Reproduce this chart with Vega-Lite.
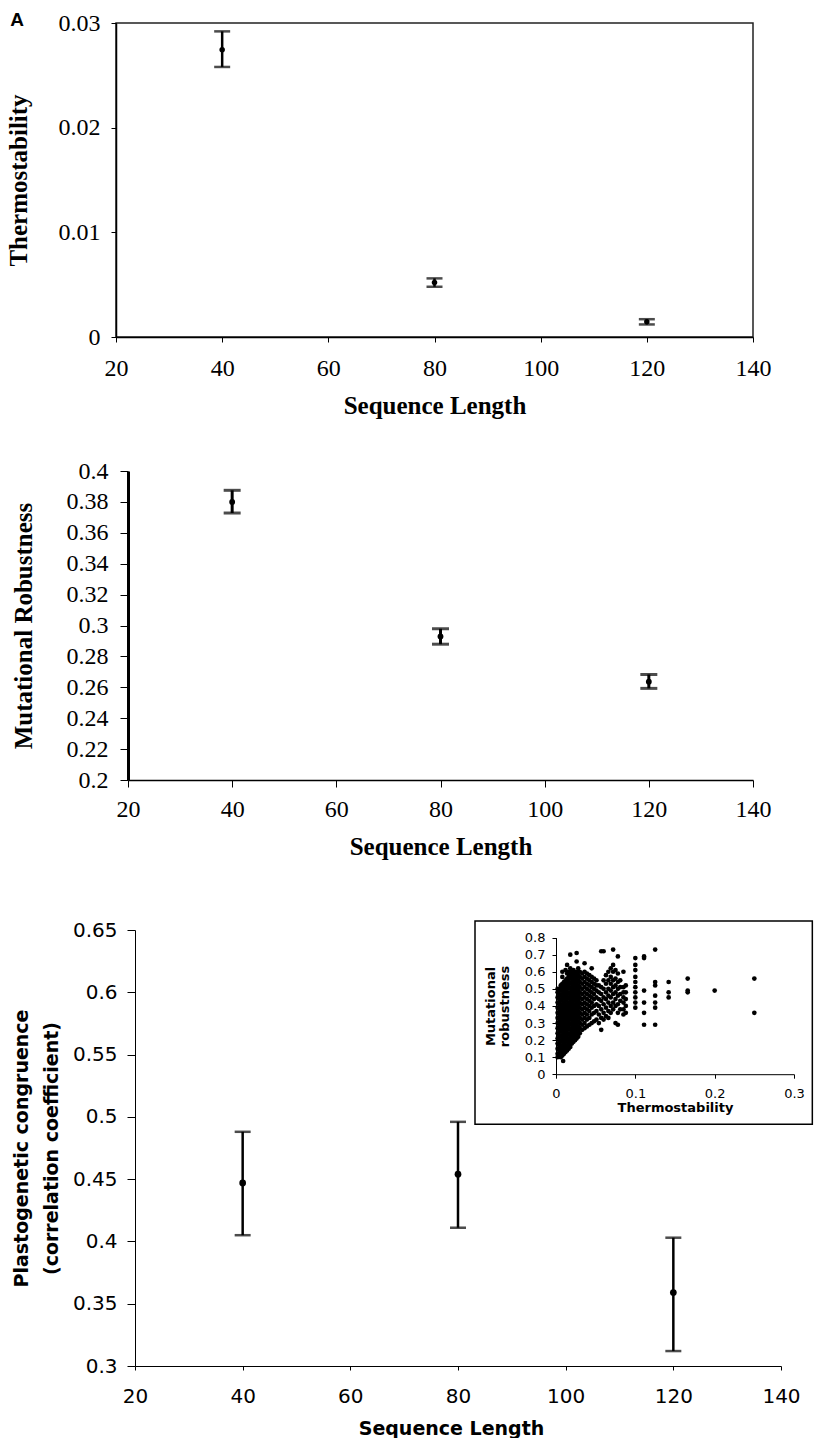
{
"$schema":"https://vega.github.io/schema/vega-lite/v6.json",
"background":"white",
"padding":{"left":5,"top":10,"right":0,"bottom":0},
"title":{"text":"A","anchor":"start","font":"Liberation Sans","fontSize":19,"fontWeight":"bold","offset":-20,"dx":5,"color":"black"},
"config":{"view":{"stroke":null},"axis":{"grid":false,"domainColor":"black","tickColor":"black","labelColor":"black","titleColor":"black","labelFlush":false,"labelOverlap":false}},
"datasets":{
"p1":[{"len":40,"mean":0.02745,"lo":0.0258,"hi":0.0292},{"len":80,"mean":0.0052,"lo":0.0048,"hi":0.0056},{"len":120,"mean":0.00146,"lo":0.0012,"hi":0.0017}],
"p2":[{"len":40,"mean":0.38,"lo":0.3728,"hi":0.3875},{"len":80,"mean":0.2929,"lo":0.2879,"hi":0.2979},{"len":120,"mean":0.2636,"lo":0.2593,"hi":0.2683}],
"p3":[{"len":40,"mean":0.447,"lo":0.405,"hi":0.488},{"len":80,"mean":0.454,"lo":0.411,"hi":0.496},{"len":120,"mean":0.359,"lo":0.312,"hi":0.403}],
"inset":[
{"t":0.002,"m":0.10},{"t":0.002,"m":0.12},{"t":0.002,"m":0.15},{"t":0.002,"m":0.18},{"t":0.002,"m":0.21},{"t":0.002,"m":0.24},{"t":0.002,"m":0.27},{"t":0.002,"m":0.30},{"t":0.002,"m":0.33},{"t":0.002,"m":0.36},{"t":0.002,"m":0.39},{"t":0.002,"m":0.42},{"t":0.002,"m":0.45},{"t":0.002,"m":0.48},{"t":0.002,"m":0.50},
{"t":0.004,"m":0.11},{"t":0.004,"m":0.14},{"t":0.004,"m":0.17},{"t":0.004,"m":0.2},{"t":0.004,"m":0.23},{"t":0.004,"m":0.26},{"t":0.004,"m":0.29},{"t":0.004,"m":0.32},{"t":0.004,"m":0.35},{"t":0.004,"m":0.38},{"t":0.004,"m":0.41},{"t":0.004,"m":0.44},{"t":0.004,"m":0.47},{"t":0.004,"m":0.5},
{"t":0.006,"m":0.1},{"t":0.006,"m":0.13},{"t":0.006,"m":0.16},{"t":0.006,"m":0.19},{"t":0.006,"m":0.22},{"t":0.006,"m":0.25},{"t":0.006,"m":0.28},{"t":0.006,"m":0.31},{"t":0.006,"m":0.34},{"t":0.006,"m":0.37},{"t":0.006,"m":0.4},{"t":0.006,"m":0.43},{"t":0.006,"m":0.46},{"t":0.006,"m":0.49},{"t":0.006,"m":0.52},
{"t":0.009,"m":0.078},{"t":0.008,"m":0.11},{"t":0.008,"m":0.14},{"t":0.008,"m":0.17},{"t":0.008,"m":0.2},{"t":0.008,"m":0.23},{"t":0.008,"m":0.26},{"t":0.008,"m":0.29},{"t":0.008,"m":0.32},{"t":0.008,"m":0.35},{"t":0.008,"m":0.38},{"t":0.008,"m":0.41},{"t":0.008,"m":0.44},{"t":0.008,"m":0.47},{"t":0.008,"m":0.5},{"t":0.008,"m":0.53},{"t":0.008,"m":0.57},{"t":0.008,"m":0.6},
{"t":0.010,"m":0.12},{"t":0.010,"m":0.15},{"t":0.010,"m":0.18},{"t":0.010,"m":0.21},{"t":0.010,"m":0.24},{"t":0.010,"m":0.27},{"t":0.010,"m":0.3},{"t":0.010,"m":0.33},{"t":0.010,"m":0.36},{"t":0.010,"m":0.39},{"t":0.010,"m":0.42},{"t":0.010,"m":0.45},{"t":0.010,"m":0.48},{"t":0.010,"m":0.51},{"t":0.010,"m":0.54},
{"t":0.012,"m":0.13},{"t":0.012,"m":0.16},{"t":0.012,"m":0.19},{"t":0.012,"m":0.22},{"t":0.012,"m":0.25},{"t":0.012,"m":0.28},{"t":0.012,"m":0.31},{"t":0.012,"m":0.34},{"t":0.012,"m":0.37},{"t":0.012,"m":0.4},{"t":0.012,"m":0.43},{"t":0.012,"m":0.46},{"t":0.012,"m":0.49},{"t":0.012,"m":0.52},{"t":0.012,"m":0.55},{"t":0.012,"m":0.61},
{"t":0.014,"m":0.14},{"t":0.014,"m":0.17},{"t":0.014,"m":0.2},{"t":0.014,"m":0.23},{"t":0.014,"m":0.26},{"t":0.014,"m":0.29},{"t":0.014,"m":0.32},{"t":0.014,"m":0.35},{"t":0.014,"m":0.38},{"t":0.014,"m":0.41},{"t":0.014,"m":0.44},{"t":0.014,"m":0.47},{"t":0.014,"m":0.5},{"t":0.014,"m":0.53},{"t":0.014,"m":0.56},{"t":0.014,"m":0.59},{"t":0.014,"m":0.64},
{"t":0.016,"m":0.15},{"t":0.016,"m":0.18},{"t":0.016,"m":0.21},{"t":0.016,"m":0.24},{"t":0.016,"m":0.27},{"t":0.016,"m":0.3},{"t":0.016,"m":0.33},{"t":0.016,"m":0.36},{"t":0.016,"m":0.39},{"t":0.016,"m":0.42},{"t":0.016,"m":0.45},{"t":0.016,"m":0.48},{"t":0.016,"m":0.51},{"t":0.016,"m":0.54},{"t":0.016,"m":0.57},{"t":0.016,"m":0.6},
{"t":0.018,"m":0.16},{"t":0.018,"m":0.2},{"t":0.018,"m":0.23},{"t":0.018,"m":0.26},{"t":0.018,"m":0.29},{"t":0.018,"m":0.32},{"t":0.018,"m":0.35},{"t":0.018,"m":0.38},{"t":0.018,"m":0.41},{"t":0.018,"m":0.44},{"t":0.018,"m":0.47},{"t":0.018,"m":0.5},{"t":0.018,"m":0.53},{"t":0.018,"m":0.56},{"t":0.018,"m":0.59},{"t":0.018,"m":0.62},{"t":0.018,"m":0.7},
{"t":0.020,"m":0.18},{"t":0.020,"m":0.21},{"t":0.020,"m":0.24},{"t":0.020,"m":0.27},{"t":0.020,"m":0.3},{"t":0.020,"m":0.33},{"t":0.020,"m":0.36},{"t":0.020,"m":0.39},{"t":0.020,"m":0.42},{"t":0.020,"m":0.45},{"t":0.020,"m":0.48},{"t":0.020,"m":0.51},{"t":0.020,"m":0.54},{"t":0.020,"m":0.57},{"t":0.020,"m":0.6},
{"t":0.022,"m":0.19},{"t":0.022,"m":0.22},{"t":0.022,"m":0.25},{"t":0.022,"m":0.28},{"t":0.022,"m":0.31},{"t":0.022,"m":0.34},{"t":0.022,"m":0.37},{"t":0.022,"m":0.4},{"t":0.022,"m":0.43},{"t":0.022,"m":0.46},{"t":0.022,"m":0.49},{"t":0.022,"m":0.52},{"t":0.022,"m":0.55},{"t":0.022,"m":0.58},{"t":0.022,"m":0.61},
{"t":0.024,"m":0.2},{"t":0.024,"m":0.23},{"t":0.024,"m":0.26},{"t":0.024,"m":0.29},{"t":0.024,"m":0.32},{"t":0.024,"m":0.35},{"t":0.024,"m":0.38},{"t":0.024,"m":0.41},{"t":0.024,"m":0.44},{"t":0.024,"m":0.47},{"t":0.024,"m":0.5},{"t":0.024,"m":0.53},{"t":0.024,"m":0.56},{"t":0.024,"m":0.59},
{"t":0.026,"m":0.21},{"t":0.026,"m":0.24},{"t":0.026,"m":0.27},{"t":0.026,"m":0.3},{"t":0.026,"m":0.33},{"t":0.026,"m":0.36},{"t":0.026,"m":0.39},{"t":0.026,"m":0.42},{"t":0.026,"m":0.45},{"t":0.026,"m":0.48},{"t":0.026,"m":0.51},{"t":0.026,"m":0.54},{"t":0.026,"m":0.57},{"t":0.026,"m":0.6},{"t":0.026,"m":0.66},{"t":0.026,"m":0.71},
{"t":0.028,"m":0.22},{"t":0.028,"m":0.25},{"t":0.028,"m":0.28},{"t":0.028,"m":0.31},{"t":0.028,"m":0.34},{"t":0.028,"m":0.37},{"t":0.028,"m":0.4},{"t":0.028,"m":0.43},{"t":0.028,"m":0.46},{"t":0.028,"m":0.49},{"t":0.028,"m":0.52},{"t":0.028,"m":0.55},{"t":0.028,"m":0.58},{"t":0.028,"m":0.62},
{"t":0.030,"m":0.24},{"t":0.030,"m":0.27},{"t":0.030,"m":0.3},{"t":0.030,"m":0.33},{"t":0.030,"m":0.36},{"t":0.030,"m":0.39},{"t":0.030,"m":0.42},{"t":0.030,"m":0.45},{"t":0.030,"m":0.48},{"t":0.030,"m":0.51},{"t":0.030,"m":0.54},{"t":0.030,"m":0.57},{"t":0.030,"m":0.6},
{"t":0.033,"m":0.26},{"t":0.033,"m":0.29},{"t":0.033,"m":0.32},{"t":0.033,"m":0.35},{"t":0.033,"m":0.38},{"t":0.033,"m":0.41},{"t":0.033,"m":0.44},{"t":0.033,"m":0.47},{"t":0.033,"m":0.5},{"t":0.033,"m":0.53},{"t":0.033,"m":0.56},{"t":0.033,"m":0.59},
{"t":0.036,"m":0.27},{"t":0.036,"m":0.3},{"t":0.036,"m":0.33},{"t":0.036,"m":0.36},{"t":0.036,"m":0.39},{"t":0.036,"m":0.42},{"t":0.036,"m":0.45},{"t":0.036,"m":0.48},{"t":0.036,"m":0.51},{"t":0.036,"m":0.54},{"t":0.036,"m":0.57},{"t":0.036,"m":0.6},{"t":0.036,"m":0.65},
{"t":0.039,"m":0.28},{"t":0.039,"m":0.32},{"t":0.039,"m":0.35},{"t":0.039,"m":0.38},{"t":0.039,"m":0.41},{"t":0.039,"m":0.44},{"t":0.039,"m":0.47},{"t":0.039,"m":0.5},{"t":0.039,"m":0.53},{"t":0.039,"m":0.56},{"t":0.039,"m":0.59},
{"t":0.042,"m":0.29},{"t":0.042,"m":0.33},{"t":0.042,"m":0.37},{"t":0.042,"m":0.4},{"t":0.042,"m":0.43},{"t":0.042,"m":0.46},{"t":0.042,"m":0.49},{"t":0.042,"m":0.52},{"t":0.042,"m":0.55},{"t":0.042,"m":0.58},
{"t":0.045,"m":0.3},{"t":0.045,"m":0.35},{"t":0.045,"m":0.39},{"t":0.045,"m":0.42},{"t":0.045,"m":0.45},{"t":0.045,"m":0.48},{"t":0.045,"m":0.51},{"t":0.045,"m":0.54},{"t":0.045,"m":0.57},{"t":0.045,"m":0.62},
{"t":0.048,"m":0.31},{"t":0.048,"m":0.36},{"t":0.048,"m":0.4},{"t":0.048,"m":0.44},{"t":0.048,"m":0.47},{"t":0.048,"m":0.5},{"t":0.048,"m":0.53},{"t":0.048,"m":0.56},
{"t":0.051,"m":0.32},{"t":0.051,"m":0.37},{"t":0.051,"m":0.41},{"t":0.051,"m":0.45},{"t":0.051,"m":0.49},{"t":0.051,"m":0.52},{"t":0.051,"m":0.55},
{"t":0.054,"m":0.3},{"t":0.054,"m":0.35},{"t":0.054,"m":0.4},{"t":0.054,"m":0.44},{"t":0.054,"m":0.48},{"t":0.054,"m":0.52},
{"t":0.057,"m":0.26},{"t":0.057,"m":0.33},{"t":0.057,"m":0.38},{"t":0.057,"m":0.43},{"t":0.057,"m":0.47},{"t":0.057,"m":0.51},{"t":0.057,"m":0.72},
{"t":0.060,"m":0.32},{"t":0.060,"m":0.36},{"t":0.060,"m":0.41},{"t":0.060,"m":0.45},{"t":0.060,"m":0.5},{"t":0.060,"m":0.55},{"t":0.060,"m":0.72},
{"t":0.063,"m":0.34},{"t":0.063,"m":0.39},{"t":0.063,"m":0.44},{"t":0.063,"m":0.48},{"t":0.063,"m":0.53},{"t":0.063,"m":0.58},
{"t":0.066,"m":0.33},{"t":0.066,"m":0.37},{"t":0.066,"m":0.42},{"t":0.066,"m":0.46},{"t":0.066,"m":0.5},{"t":0.066,"m":0.55},{"t":0.066,"m":0.6},
{"t":0.069,"m":0.36},{"t":0.069,"m":0.4},{"t":0.069,"m":0.45},{"t":0.069,"m":0.49},{"t":0.069,"m":0.53},{"t":0.069,"m":0.57},{"t":0.069,"m":0.62},
{"t":0.072,"m":0.38},{"t":0.072,"m":0.42},{"t":0.072,"m":0.47},{"t":0.072,"m":0.51},{"t":0.072,"m":0.55},{"t":0.072,"m":0.6},{"t":0.072,"m":0.64},{"t":0.072,"m":0.73},
{"t":0.075,"m":0.3},{"t":0.075,"m":0.4},{"t":0.075,"m":0.44},{"t":0.075,"m":0.48},{"t":0.075,"m":0.52},{"t":0.075,"m":0.56},{"t":0.075,"m":0.61},
{"t":0.078,"m":0.29},{"t":0.078,"m":0.36},{"t":0.078,"m":0.41},{"t":0.078,"m":0.46},{"t":0.078,"m":0.5},{"t":0.078,"m":0.54},{"t":0.078,"m":0.59},{"t":0.078,"m":0.69},
{"t":0.081,"m":0.38},{"t":0.081,"m":0.43},{"t":0.081,"m":0.47},{"t":0.081,"m":0.51},{"t":0.081,"m":0.55},
{"t":0.085,"m":0.35},{"t":0.085,"m":0.38},{"t":0.085,"m":0.42},{"t":0.085,"m":0.45},{"t":0.085,"m":0.48},{"t":0.085,"m":0.51},{"t":0.085,"m":0.6},
{"t":0.088,"m":0.36},{"t":0.088,"m":0.4},{"t":0.088,"m":0.44},{"t":0.088,"m":0.48},{"t":0.088,"m":0.52},
{"t":0.100,"m":0.39},{"t":0.100,"m":0.42},{"t":0.100,"m":0.45},{"t":0.100,"m":0.48},{"t":0.100,"m":0.51},{"t":0.100,"m":0.54},{"t":0.100,"m":0.57},{"t":0.100,"m":0.61},{"t":0.100,"m":0.64},{"t":0.100,"m":0.68},
{"t":0.111,"m":0.29},{"t":0.111,"m":0.36},{"t":0.111,"m":0.42},{"t":0.111,"m":0.49},{"t":0.111,"m":0.68},{"t":0.111,"m":0.69},
{"t":0.125,"m":0.29},{"t":0.125,"m":0.39},{"t":0.125,"m":0.42},{"t":0.125,"m":0.46},{"t":0.125,"m":0.52},{"t":0.125,"m":0.54},{"t":0.125,"m":0.73},
{"t":0.142,"m":0.45},{"t":0.142,"m":0.48},{"t":0.142,"m":0.54},
{"t":0.166,"m":0.48},{"t":0.166,"m":0.49},{"t":0.166,"m":0.56},
{"t":0.2,"m":0.49},
{"t":0.25,"m":0.36},{"t":0.25,"m":0.56}
],
"frame":[{}]
},
"spacing":61,
"vconcat":[
{"vconcat":[
{
"width":637,"height":314,
"view":{"stroke":"#222","strokeWidth":1.5},
"data":{"name":"p1"},
"encoding":{
"x":{"field":"len","type":"quantitative","scale":{"domain":[20,140],"nice":false},"axis":{"values":[20,40,60,80,100,120,140],"title":"Sequence Length","labelFont":"Liberation Serif","labelFontSize":24,"titleFont":"Liberation Serif","titleFontSize":25,"titleFontWeight":"bold","tickSize":5,"labelPadding":14,"titlePadding":13,"domainWidth":1.5}},
"y":{"field":"mean","type":"quantitative","title":"Thermostability","scale":{"domain":[0,0.03],"nice":false},"axis":{"values":[0,0.01,0.02,0.03],"format":"~g","labelFont":"Liberation Serif","labelFontSize":24,"titleFont":"Liberation Serif","titleFontSize":25,"titleFontWeight":"bold","tickSize":5,"labelPadding":11,"titlePadding":27,"domainWidth":1.5}}
},
"layer":[
{"mark":{"type":"rule","color":"black","strokeWidth":2.5},"encoding":{"y":{"field":"lo","type":"quantitative","title":"Thermostability"},"y2":{"field":"hi"}}},
{"mark":{"type":"tick","orient":"horizontal","size":16,"thickness":2.5,"color":"black"},"encoding":{"y":{"field":"lo","type":"quantitative","title":"Thermostability"}}},
{"mark":{"type":"tick","orient":"horizontal","size":16,"thickness":2.5,"color":"black"},"encoding":{"y":{"field":"hi","type":"quantitative","title":"Thermostability"}}},
{"mark":{"type":"circle","color":"black","opacity":1,"size":30}}
]
},
{
"width":637,"height":309,
"data":{"name":"p2"},
"encoding":{
"x":{"field":"len","type":"quantitative","scale":{"domain":[20,140],"range":[12,637],"nice":false},"axis":{"values":[20,40,60,80,100,120,140],"title":"Sequence Length","labelFont":"Liberation Serif","labelFontSize":24,"titleFont":"Liberation Serif","titleFontSize":25,"titleFontWeight":"bold","tickSize":7,"labelPadding":10,"titlePadding":13,"domainWidth":1.5}},
"y":{"field":"mean","type":"quantitative","title":"Mutational Robustness","scale":{"domain":[0.2,0.4],"nice":false,"zero":false},"axis":{"offset":-12,"values":[0.2,0.22,0.24,0.26,0.28,0.3,0.32,0.34,0.36,0.38,0.4],"format":"~g","labelFont":"Liberation Serif","labelFontSize":24,"titleFont":"Liberation Serif","titleFontSize":25,"titleFontWeight":"bold","tickSize":8,"labelPadding":12,"titlePadding":30,"domainWidth":3}}
},
"layer":[
{"data":{"name":"frame"},"mark":{"type":"rect","filled":false,"stroke":"black","strokeWidth":2},"encoding":{"x":{"datum":20,"type":"quantitative","title":"Sequence Length"},"x2":{"datum":140},"y":{"datum":0.2,"type":"quantitative","title":"Mutational Robustness"},"y2":{"datum":0.4}}},
{"mark":{"type":"rule","color":"black","strokeWidth":3},"encoding":{"y":{"field":"lo","type":"quantitative","title":"Mutational Robustness"},"y2":{"field":"hi"}}},
{"mark":{"type":"tick","orient":"horizontal","size":17,"thickness":3,"color":"black"},"encoding":{"y":{"field":"lo","type":"quantitative","title":"Mutational Robustness"}}},
{"mark":{"type":"tick","orient":"horizontal","size":17,"thickness":3,"color":"black"},"encoding":{"y":{"field":"hi","type":"quantitative","title":"Mutational Robustness"}}},
{"mark":{"type":"circle","color":"black","opacity":1,"size":34}}
]
}
],"spacing":40},
{
"width":665,"height":436,
"layer":[
{
"data":{"name":"p3"},
"encoding":{
"x":{"field":"len","type":"quantitative","scale":{"domain":[20,140],"range":[19,665],"nice":false},"axis":{"orient":"bottom","values":[20,40,60,80,100,120,140],"title":"Sequence Length","titleX":335,"labelFont":"DejaVu Sans","labelFontSize":20,"titleFont":"DejaVu Sans","titleFontSize":19,"titleFontWeight":"bold","tickSize":4,"labelPadding":16,"titlePadding":13,"domainWidth":1}},
"y":{"field":"mean","type":"quantitative","title":["Plastogenetic congruence","(correlation coefficient)"],"scale":{"domain":[0.3,0.65],"nice":false,"zero":false},"axis":{"orient":"left","offset":-19,"values":[0.3,0.35,0.4,0.45,0.5,0.55,0.6,0.65],"format":"~g","labelFont":"DejaVu Sans","labelFontSize":20,"titleFont":"DejaVu Sans","titleFontSize":19,"titleFontWeight":"bold","titleLineHeight":30,"tickSize":8,"labelPadding":10,"titlePadding":11,"domainWidth":1}}
},
"layer":[
{"mark":{"type":"rule","color":"black","strokeWidth":2.5},"encoding":{"y":{"field":"lo","type":"quantitative","title":["Plastogenetic congruence","(correlation coefficient)"]},"y2":{"field":"hi"}}},
{"mark":{"type":"tick","orient":"horizontal","size":16,"thickness":2.5,"color":"black"},"encoding":{"y":{"field":"lo","type":"quantitative","title":["Plastogenetic congruence","(correlation coefficient)"]}}},
{"mark":{"type":"tick","orient":"horizontal","size":16,"thickness":2.5,"color":"black"},"encoding":{"y":{"field":"hi","type":"quantitative","title":["Plastogenetic congruence","(correlation coefficient)"]}}},
{"mark":{"type":"circle","color":"black","opacity":1,"size":45}}
]
},
{
"layer":[
{"data":{"name":"frame"},"mark":{"type":"rect","fill":"white","stroke":"black","strokeWidth":1.5},
"encoding":{
"x":{"datum":-0.1021,"type":"quantitative","title":"Thermostability","scale":{"domain":[0,0.3],"range":[440,678],"nice":false,"zero":false},"axis":{"orient":"bottom","offset":-291.8,"zindex":1,"values":[0,0.1,0.2,0.3],"format":"~g","labelFont":"DejaVu Sans","labelFontSize":13,"titleFont":"DejaVu Sans","titleFontSize":13,"titleFontWeight":"bold","tickSize":4,"labelPadding":9,"titlePadding":1,"domainWidth":1}},
"x2":{"datum":0.3231},
"y":{"datum":0.8971,"type":"quantitative","title":["Mutational","robustness"],"scale":{"domain":[0,0.8],"range":[144.3,7.6],"nice":false,"zero":false},"axis":{"orient":"left","offset":-440,"zindex":1,"values":[0,0.1,0.2,0.3,0.4,0.5,0.6,0.7,0.8],"format":"~g","labelFont":"DejaVu Sans","labelFontSize":13,"titleFont":"DejaVu Sans","titleFontSize":13,"titleFontWeight":"bold","titleLineHeight":14,"tickSize":4,"labelPadding":7,"titlePadding":13,"domainWidth":1}},
"y2":{"datum":-0.2926}
}},
{"data":{"name":"inset"},"mark":{"type":"circle","color":"black","opacity":1,"size":22},
"encoding":{
"x":{"field":"t","type":"quantitative","title":"Thermostability","scale":{"domain":[0,0.3],"range":[440,678],"nice":false,"zero":false},"axis":{"orient":"bottom","offset":-291.8,"zindex":1,"values":[0,0.1,0.2,0.3],"format":"~g","labelFont":"DejaVu Sans","labelFontSize":13,"titleFont":"DejaVu Sans","titleFontSize":13,"titleFontWeight":"bold","tickSize":4,"labelPadding":9,"titlePadding":1,"domainWidth":1}},
"y":{"field":"m","type":"quantitative","title":["Mutational","robustness"],"scale":{"domain":[0,0.8],"range":[144.3,7.6],"nice":false,"zero":false},"axis":{"orient":"left","offset":-440,"zindex":1,"values":[0,0.1,0.2,0.3,0.4,0.5,0.6,0.7,0.8],"format":"~g","labelFont":"DejaVu Sans","labelFontSize":13,"titleFont":"DejaVu Sans","titleFontSize":13,"titleFontWeight":"bold","titleLineHeight":14,"tickSize":4,"labelPadding":7,"titlePadding":13,"domainWidth":1}}
}}
]
}
],
"resolve":{"scale":{"x":"independent","y":"independent"},"axis":{"x":"independent","y":"independent"}}
}
]
}
